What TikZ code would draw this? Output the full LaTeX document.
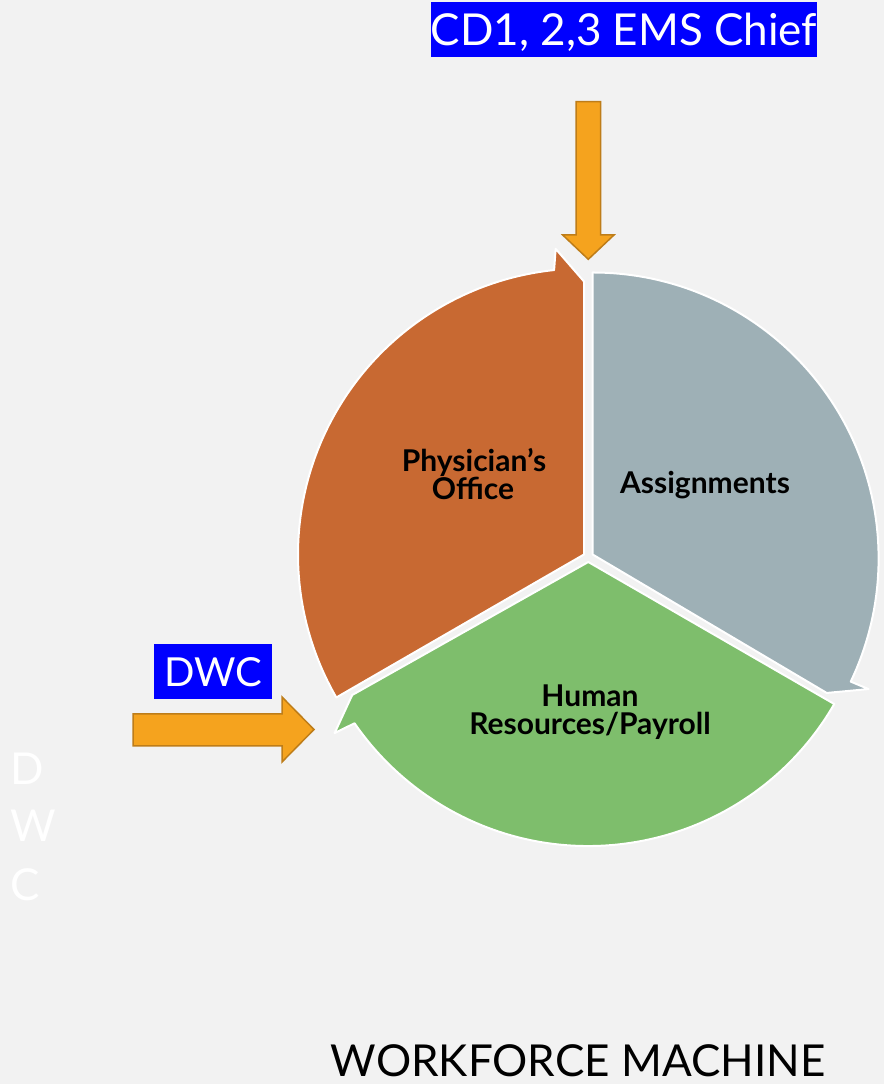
\documentclass[tikz,border=0pt]{standalone}
\usepackage{fontspec}
\setmainfont{Lato}
\definecolor{bg}{HTML}{F2F2F2}
\definecolor{segorange}{HTML}{C86932}
\definecolor{seggray}{HTML}{9EB0B6}
\definecolor{seggreen}{HTML}{7EBE6C}
\definecolor{arrfill}{HTML}{F5A31E}
\definecolor{arrline}{HTML}{BE7D19}
\definecolor{labblue}{HTML}{0000FF}
\tikzset{
  seg/.style={draw=white, line width=2pt, line join=round},
  blockarrow/.style={fill=arrfill, draw=arrline, line width=1.5pt, line join=miter},
  bluelabel/.style={fill=labblue, text=white, inner sep=0pt, anchor=center},
  seglabel/.style={font=\bfseries\fontsize{30}{33}\selectfont, text=black, inner sep=0pt, anchor=base},
  sidelabel/.style={font=\fontsize{44}{48}\selectfont, text=white, inner sep=0pt, anchor=base west}
}
\begin{document}
\begin{tikzpicture}[x=1pt,y=1pt]
\path[use as bounding box, fill=bg] (0,0) rectangle (884,1084);

% orange segment
\begin{scope}[shift={(584.0,529.5)}]
\path[seg, fill=segorange] (210:286) arc[start angle=210, end angle=96, radius=286]
  -- (95.3:307) -- (90:273) -- (0,0) -- cycle;
\end{scope}
% gray segment
\begin{scope}[shift={(592.6,529.5)}]
\path[seg, fill=seggray] (90:282) arc[start angle=90, end angle=-25.5, radius=286]
  -- (-26:307) -- (-30.6:272) -- (0,0) -- cycle;
\end{scope}
% green segment
\begin{scope}[shift={(588.3,522)}]
\path[seg, fill=seggreen] (-30:284) arc[start angle=-30, end angle=-145.4, radius=284]
  -- (-146:306) -- (-150.6:271) -- (0,0) -- cycle;
\end{scope}

% block arrows
\path[blockarrow] (576,982.3) -- (600.7,982.3) -- (600.7,849) -- (614,849) -- (588.3,824.7)
  -- (562.7,849) -- (576,849) -- cycle;
\path[blockarrow] (133,370) -- (282,370) -- (282,387) -- (314,354.5) -- (282,322)
  -- (282,338) -- (133,338) -- cycle;

% blue labels
\node[bluelabel, minimum width=386pt, minimum height=55pt, text height=32pt, text depth=0pt,
  font=\fontsize{44}{48}\selectfont] (chief) at (624,1054.5) {CD1, 2,3 EMS Chief};
\node[bluelabel, minimum width=118pt, minimum height=55pt, text height=30pt, text depth=0pt,
  font=\fontsize{40}{44}\selectfont] (dwc) at (213,412.5) {DWC};

% segment labels
\node[seglabel] (phys1) at (474,612.3) {Physician’s};
\node[seglabel] (phys2) at (473,584.7) {Office};
\node[seglabel] (assign) at (705,590.7) {Assignments};
\node[seglabel] (hr1) at (590,377.3) {Human};
\node[seglabel] (hr2) at (590,349) {Resources/Payroll};

% side letters
\node[sidelabel] (sd) at (10,299) {D};
\node[sidelabel] (sw) at (10,242) {W};
\node[sidelabel] (sc) at (10,183) {C};

% title
\node[inner sep=0pt, anchor=base, font=\fontsize{44}{48}\selectfont] (title) at (578,7) {WORKFORCE MACHINE};
\end{tikzpicture}
\end{document}
